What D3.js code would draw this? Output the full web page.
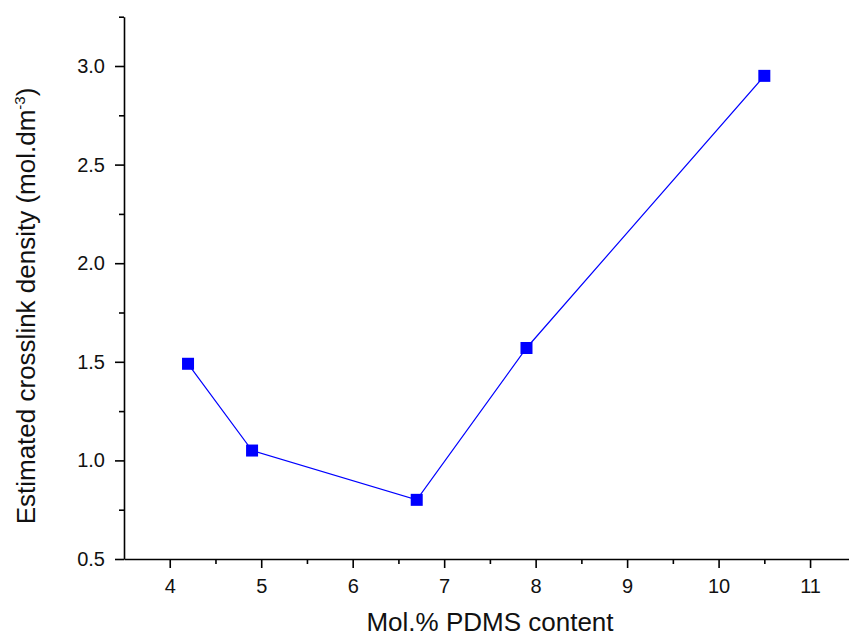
<!DOCTYPE html>
<html>
<head>
<meta charset="utf-8">
<script src="https://cdn.jsdelivr.net/npm/d3@7/dist/d3.min.js"></script>
<style>
  html, body { margin: 0; padding: 0; background: #fff; }
  svg { display: block; font-family: Arial, "Liberation Sans", sans-serif; }
</style>
</head>
<body>
<svg id="chart" width="849" height="637"></svg>
<script>
// PDMS content (mol.%) and estimated crosslink density (mol.dm^-3)
const pdmsContent = [4.2, 4.9, 6.7, 7.9, 10.5];
const crosslinkDensity = [1.49, 1.05, 0.80, 1.57, 2.95];

const xMajorTicks = [4, 5, 6, 7, 8, 9, 10, 11];
const xMinorTicks = [4.5, 5.5, 6.5, 7.5, 8.5, 9.5, 10.5, 11.5];
const yMajorTicks = [0.5, 1.0, 1.5, 2.0, 2.5, 3.0];
const yMinorTicks = [0.75, 1.25, 1.75, 2.25, 2.75, 3.25];

const svg = d3.select("#chart");

const x = d3.scaleLinear().domain([3.5, 11.5]).range([124, 855.8]);
const y = d3.scaleLinear().domain([0.5, 3.25]).range([559, 16.7]);

const axisColor = "#000";

// X axis: major ticks with labels, minor ticks without
const xAxis = svg.append("g").attr("transform", `translate(0,${y(0.5)})`)
  .call(d3.axisBottom(x).tickValues(xMajorTicks).tickFormat(d3.format("d"))
    .tickSize(9).tickPadding(11).tickSizeOuter(0));
xAxis.append("g").call(d3.axisBottom(x).tickValues(xMinorTicks).tickFormat("")
    .tickSize(5).tickSizeOuter(0))
  .select(".domain").remove();

// Y axis
const yAxis = svg.append("g").attr("transform", `translate(${x(3.5)},0)`)
  .call(d3.axisLeft(y).tickValues(yMajorTicks).tickFormat(d3.format(".1f"))
    .tickSize(9).tickPadding(10).tickSizeOuter(0));
yAxis.append("g").call(d3.axisLeft(y).tickValues(yMinorTicks).tickFormat("")
    .tickSize(5).tickSizeOuter(0))
  .select(".domain").remove();

svg.selectAll(".domain, .tick line")
  .attr("stroke", axisColor).attr("stroke-width", 1.6);
svg.selectAll(".tick text")
  .attr("fill", "#111").style("font-size", "20px")
  .style("font-family", "Arial, 'Liberation Sans', sans-serif");

// Connecting line
const pts = pdmsContent.map((v, i) => [v, crosslinkDensity[i]]);
svg.append("path")
  .datum(pts)
  .attr("fill", "none")
  .attr("stroke", "#0000ff")
  .attr("stroke-width", 1.2)
  .attr("d", d3.line().x(d => x(d[0])).y(d => y(d[1])));

// Square markers
const sz = 12;
svg.selectAll("rect.pt").data(pts).enter().append("rect")
  .attr("class", "pt")
  .attr("x", d => x(d[0]) - sz / 2)
  .attr("y", d => y(d[1]) - sz / 2)
  .attr("width", sz).attr("height", sz)
  .attr("fill", "#0000ff");

// Axis titles
svg.append("text")
  .attr("x", 490).attr("y", 631)
  .attr("text-anchor", "middle")
  .style("font-size", "26px").attr("fill", "#111")
  .text("Mol.% PDMS content");

const yTitle = svg.append("text")
  .attr("transform", "translate(35,306) rotate(-90)")
  .attr("text-anchor", "middle")
  .style("font-size", "26px").attr("fill", "#111");
yTitle.append("tspan").text("Estimated crosslink density (mol.dm");
yTitle.append("tspan").attr("dy", -10).style("font-size", "15px").text("-3");
yTitle.append("tspan").attr("dy", 10).text(")");
</script>
</body>
</html>
